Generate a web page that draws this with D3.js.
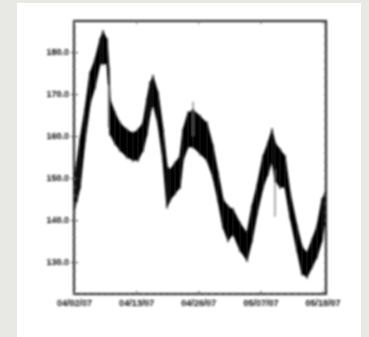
<!DOCTYPE html>
<html>
<head>
<meta charset="utf-8">
<script src="https://cdn.jsdelivr.net/npm/d3@7"></script>
<style>
  html, body { margin: 0; padding: 0; background: #e8e8e4; }
  #chart { width: 369px; height: 337px; }
</style>
</head>
<body>
<div id="chart"></div>
<script>
// trading day offsets and the price range drawn at each one
const days  = [0.1, 0.43, 0.87, 1.59, 2.32, 3.04, 3.77, 4.2, 4.78, 5.05, 5.21, 5.94, 6.66, 7.68, 8.55, 9.27, 9.99, 10.57, 11.01, 11.44, 12.17, 12.89, 13.47, 13.9, 14.63, 15.35, 15.79, 16.51, 17.24, 18.25, 19.26, 20.13, 20.86, 21.58, 22.31, 23.03, 24.04, 25.06, 25.78, 26.51, 27.38, 28.1, 28.68, 29.11, 29.84, 30.56, 31.29, 32.3, 33.02, 33.75, 34.47, 35.2, 35.92, 36.36];
const highs = [151.0, 153.5, 159.0, 166.2, 174.9, 178.1, 182.9, 184.8, 182.9, 176.0, 168.6, 165.4, 163.0, 161.4, 160.6, 161.4, 163.0, 168.6, 172.5, 174.1, 170.2, 161.4, 152.7, 151.9, 153.5, 155.1, 161.4, 165.4, 166.2, 164.6, 163.0, 157.5, 151.1, 144.8, 143.2, 142.4, 139.2, 136.8, 143.2, 148.0, 155.1, 158.3, 161.4, 158.3, 156.7, 155.1, 146.4, 138.4, 133.6, 132.1, 135.2, 138.4, 144.8, 146.4];
const lows  = [143.0, 144.8, 147.9, 159.0, 167.8, 171.7, 177.3, 177.3, 177.3, 171.0, 160.6, 158.3, 156.7, 155.1, 154.3, 154.3, 156.7, 160.6, 165.4, 167.8, 163.0, 154.3, 143.2, 144.8, 146.4, 147.9, 154.3, 157.5, 157.5, 155.9, 154.3, 150.3, 144.8, 138.4, 135.2, 136.8, 132.9, 130.5, 135.2, 141.6, 147.9, 151.1, 154.3, 149.5, 147.9, 147.9, 140.8, 132.9, 127.3, 126.5, 128.9, 131.3, 135.2, 140.0];
// stray highs/lows sticking out of the band
const wickDays  = [5.0, 17.24, 29.11];
const wickHighs = [172.0, 168.2, 152.0];
const wickLows  = [162.0, 160.0, 140.8];

const yTicks = [130, 140, 150, 160, 170, 180];
const xTickDays = [0, 9, 18, 27, 36];
const xTickLabels = ["04/02/07", "04/13/07", "04/26/07", "05/07/07", "05/18/07"];

const W = 369, H = 337;
const margin = { top: 21, right: 43, bottom: 43, left: 74 };
const width = W - margin.left - margin.right;
const height = H - margin.top - margin.bottom;

const svg = d3.select("#chart").append("svg")
  .attr("width", W)
  .attr("height", H);

svg.append("defs").append("filter")
  .attr("id", "soft")
  .attr("x", "-5%").attr("y", "-5%").attr("width", "110%").attr("height", "110%")
  .append("feGaussianBlur")
  .attr("stdDeviation", 1.3);

// white card
svg.append("rect")
  .attr("x", 17).attr("y", 3)
  .attr("width", 344).attr("height", 334)
  .attr("fill", "#ffffff");

const root = svg.append("g").attr("filter", "url(#soft)");
const g = root.append("g").attr("transform", `translate(${margin.left},${margin.top})`);

const x = d3.scaleLinear().domain([0, 36.5]).range([0, width]);
const y = d3.scaleLinear().domain([122.4, 187.4]).range([height, 0]);

const pts = days.map((d, i) => ({ d, hi: highs[i], lo: lows[i] }));

const area = d3.area()
  .x(p => x(p.d))
  .y0(p => y(p.lo))
  .y1(p => y(p.hi));

g.append("path")
  .datum(pts)
  .attr("fill", "#000")
  .attr("stroke", "#000")
  .attr("stroke-width", 1.2)
  .attr("d", area);

// high-low bars
g.selectAll(".bar")
  .data(pts)
  .enter().append("line")
  .attr("x1", p => x(p.d)).attr("x2", p => x(p.d))
  .attr("y1", p => y(p.hi) - 2).attr("y2", p => y(p.lo) + 2)
  .attr("stroke", "#111")
  .attr("stroke-width", 1.2);

g.selectAll(".wick")
  .data(wickDays)
  .enter().append("line")
  .attr("x1", d => x(d)).attr("x2", d => x(d))
  .attr("y1", (d, i) => y(wickHighs[i])).attr("y2", (d, i) => y(wickLows[i]))
  .attr("stroke", "#777")
  .attr("stroke-width", 1.2);

// frame
g.append("rect")
  .attr("width", width).attr("height", height)
  .attr("fill", "none")
  .attr("stroke", "#222")
  .attr("stroke-width", 2);

// left axis
const yAxis = g.append("g")
  .call(d3.axisLeft(y).tickValues(yTicks).tickSize(3).tickPadding(2).tickFormat(d3.format(".1f")));
yAxis.select(".domain").remove();
yAxis.selectAll("line").attr("stroke", "#333").attr("x2", 4).attr("x1", -3);
yAxis.selectAll("text").style("font-family", "Liberation Sans, Arial, sans-serif")
  .style("font-size", "9px").style("font-weight", "bold").style("fill", "#111");

// left minor ticks
g.append("g").call(d3.axisLeft(y).ticks(26).tickSize(-2).tickFormat(""))
  .call(a => a.select(".domain").remove())
  .selectAll("line").attr("stroke", "#666");

// right minor ticks
g.append("g").attr("transform", `translate(${width},0)`)
  .call(d3.axisRight(y).ticks(32).tickSize(-2).tickFormat(""))
  .call(a => a.select(".domain").remove())
  .selectAll("line").attr("stroke", "#555");

// bottom axis
const xAxis = g.append("g").attr("transform", `translate(0,${height})`)
  .call(d3.axisBottom(x).tickValues(xTickDays).tickSize(-3).tickPadding(6)
    .tickFormat((d, i) => xTickLabels[i]));
xAxis.select(".domain").remove();
xAxis.selectAll("line").attr("stroke", "#333");
xAxis.selectAll("text").style("font-family", "Liberation Sans, Arial, sans-serif")
  .style("font-size", "9px").style("font-weight", "bold").style("fill", "#111");

g.append("g").attr("transform", `translate(0,${height})`)
  .call(d3.axisBottom(x).ticks(36).tickSize(-1.5).tickFormat(""))
  .call(a => a.select(".domain").remove())
  .selectAll("line").attr("stroke", "#777");

// top ticks
g.append("g")
  .call(d3.axisTop(x).tickValues(xTickDays).tickSize(-3).tickFormat(""))
  .call(a => a.select(".domain").remove())
  .selectAll("line").attr("stroke", "#555");
</script>
</body>
</html>
